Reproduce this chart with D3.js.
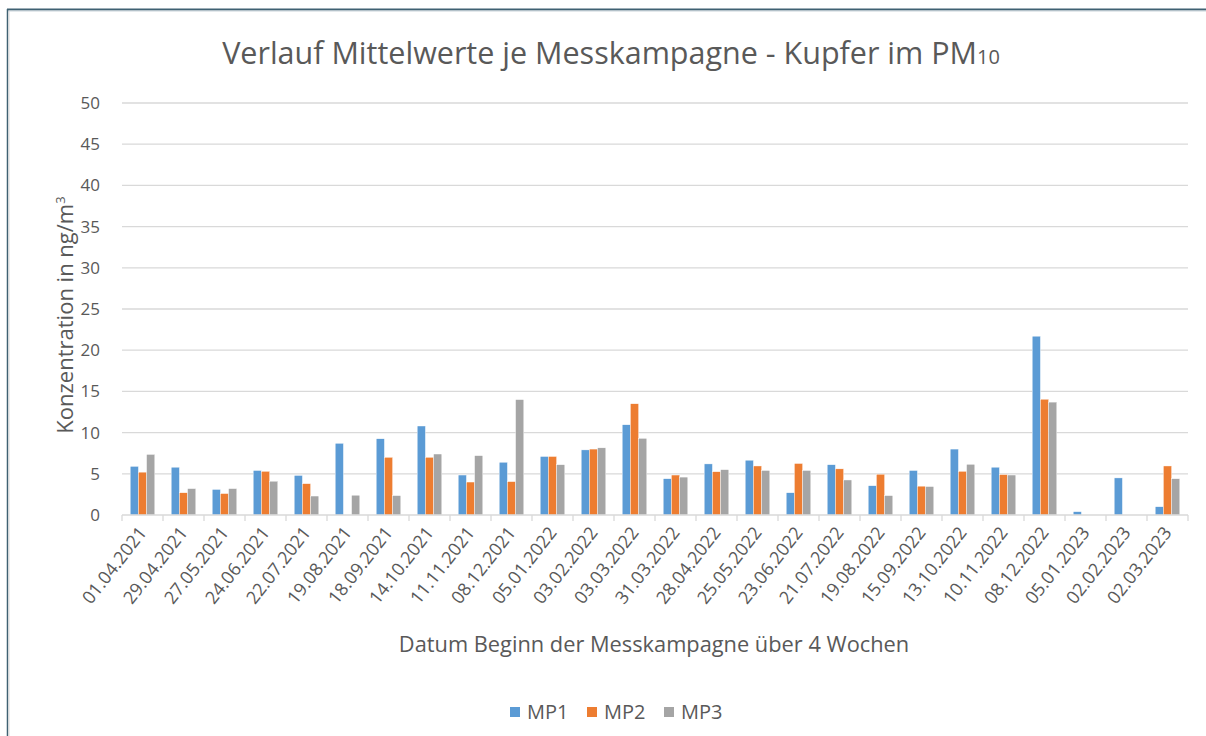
<!DOCTYPE html>
<html>
<head>
<meta charset="utf-8">
<script src="https://cdn.jsdelivr.net/npm/d3@7"></script>
<style>
	body { margin: 0; background: #fff; }
	text { font-family: "Open Sans", Lato, sans-serif; fill: #595959; }
</style>
</head>
<body>
<svg id="SvgChart"></svg>
<script>
// ------ Data
var dates = ["01.04.2021","29.04.2021","27.05.2021","24.06.2021","22.07.2021","19.08.2021","18.09.2021",
	"14.10.2021","11.11.2021","08.12.2021","05.01.2022","03.02.2022","03.03.2022","31.03.2022",
	"28.04.2022","25.05.2022","23.06.2022","21.07.2022","19.08.2022","15.09.2022","13.10.2022",
	"10.11.2022","08.12.2022","05.01.2023","02.02.2023","02.03.2023"];
var mp1 = [5.9,5.8,3.1,5.4,4.8,8.7,9.25,10.8,4.85,6.4,7.1,7.9,10.95,4.4,6.2,6.65,2.7,6.1,3.55,5.4,8.0,5.8,21.7,0.4,4.5,1.0];
var mp2 = [5.2,2.7,2.6,5.3,3.8,null,7.0,7.0,4.0,4.05,7.1,8.0,13.5,4.85,5.25,5.95,6.25,5.6,4.95,3.5,5.3,4.9,14.05,null,null,5.95];
var mp3 = [7.35,3.2,3.2,4.1,2.3,2.4,2.35,7.4,7.2,14.0,6.1,8.15,9.3,4.6,5.5,5.4,5.4,4.25,2.35,3.45,6.15,4.85,13.7,null,null,4.4];
var seriesNames = ["MP1","MP2","MP3"];
var yTicks = [0,5,10,15,20,25,30,35,40,45,50];

// ------ Sizes
var W = 1206, H = 736;
var margin = {top: 103, right: 18, bottom: 221, left: 122},
	width = W - margin.left - margin.right,
	height = H - margin.top - margin.bottom;

var colors = d3.scaleOrdinal().domain(seriesNames).range(["#5b9bd5","#ed7d31","#a5a5a5"]);
var values = [mp1, mp2, mp3];

var svg = d3.select("#SvgChart").attr("width", W).attr("height", H);

// ------ Frame (top and left border of the screenshot)
svg.append("line").attr("x1", 7).attr("x2", W).attr("y1", 9.5).attr("y2", 9.5)
	.style("stroke", "#3f6172").style("stroke-width", 2);
svg.append("line").attr("x1", 8).attr("x2", W).attr("y1", 11).attr("y2", 11)
	.style("stroke", "#c9d3da").style("stroke-width", 1);
svg.append("line").attr("x1", 7.5).attr("x2", 7.5).attr("y1", 9).attr("y2", H)
	.style("stroke", "#3f6172").style("stroke-width", 1.5);
svg.append("line").attr("x1", 9).attr("x2", 9).attr("y1", 11).attr("y2", H)
	.style("stroke", "#d9d9d9").style("stroke-width", 1);

var g = svg.append("g").attr("transform", "translate(" + margin.left + "," + margin.top + ")");

// ------ Scales
var x0 = d3.scaleBand().domain(dates).range([0, width]).paddingInner(0.4).paddingOuter(0.2);
var x1 = d3.scaleBand().domain(seriesNames).range([0, x0.bandwidth()]);
var xTick = d3.scaleBand().domain(dates).range([0, width]);
var y = d3.scaleLinear().domain([0, 50]).range([height, 0]);

// ------ Gridlines
g.append("g").selectAll("line").data(yTicks.slice(1)).enter().append("line")
	.attr("x1", 0).attr("x2", width)
	.attr("y1", d => y(d)).attr("y2", d => y(d))
	.style("stroke", "#d9d9d9").style("stroke-width", 1.3);

// y axis labels
var yAxis = d3.axisLeft(y).tickValues(yTicks).tickSize(0).tickPadding(22);
g.append("g").call(yAxis)
	.call(a => a.select(".domain").remove())
	.selectAll("text").style("font-size", "17px").style("font-family", "Open Sans").style("fill", "#595959");

// ------ Bars
var groups = g.selectAll(".grp").data(dates).enter().append("g")
	.attr("class", "grp")
	.attr("transform", d => "translate(" + x0(d) + ",0)");
groups.selectAll("rect")
	.data((d, i) => seriesNames.map((s, k) => ({s: s, v: values[k][i]})).filter(e => e.v != null))
	.enter().append("rect")
	.attr("x", e => x1(e.s))
	.attr("y", e => y(e.v))
	.attr("width", x1.bandwidth())
	.attr("height", e => height - y(e.v))
	.style("fill", e => colors(e.s))
	.style("stroke", "#ffffff").style("stroke-width", 0.4);

// ------ X axis (ticks between categories)
g.append("line").attr("x1", 0).attr("x2", width).attr("y1", height).attr("y2", height)
	.style("stroke", "#d9d9d9").style("stroke-width", 1.3);
g.append("g").selectAll("line").data(dates.concat(["end"])).enter().append("line")
	.attr("x1", (d, i) => i * xTick.step()).attr("x2", (d, i) => i * xTick.step())
	.attr("y1", height).attr("y2", height + 6)
	.style("stroke", "#d9d9d9").style("stroke-width", 1.3);

// rotated date labels
g.append("g").selectAll("text").data(dates).enter().append("text")
	.attr("transform", d => "translate(" + (xTick(d) + xTick.bandwidth() / 2 + 5) + "," + (height + 18) + ") rotate(-52)")
	.style("text-anchor", "end")
	.style("font-size", "18px")
	.text(d => d);

// ------ Titles
svg.append("text")
	.attr("x", 611).attr("y", 64)
	.style("text-anchor", "middle").style("font-size", "30.5px")
	.text("Verlauf Mittelwerte je Messkampagne - Kupfer im PM")
	.append("tspan").style("font-size", "20px").text("10");

svg.append("text")
	.attr("transform", "translate(73,315) rotate(-90)")
	.style("text-anchor", "middle").style("font-size", "22px")
	.text("Konzentration in ng/m")
	.append("tspan").attr("dy", -8).style("font-size", "13px").text("3");

svg.append("text")
	.attr("x", 654).attr("y", 652)
	.style("text-anchor", "middle").style("font-size", "21.8px")
	.text("Datum Beginn der Messkampagne über 4 Wochen");

// ------ Legend
var legendX = [510, 587, 664];
var legend = svg.selectAll(".legend").data(seriesNames).enter().append("g")
	.attr("class", "legend")
	.attr("transform", (d, i) => "translate(" + legendX[i] + ",707)");
legend.append("rect").attr("width", 10).attr("height", 10).style("fill", d => colors(d));
legend.append("text").attr("x", 17).attr("y", 12).style("font-size", "20px").text(d => d);
</script>
</body>
</html>
